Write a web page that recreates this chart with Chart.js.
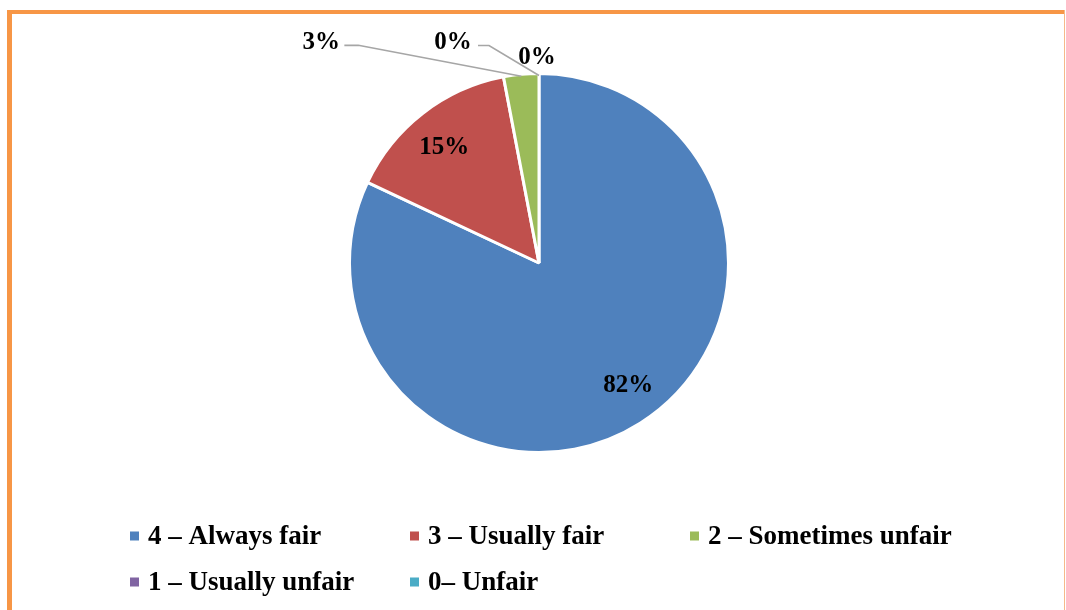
<!DOCTYPE html>
<html>
<head>
<meta charset="utf-8">
<script src="https://cdn.jsdelivr.net/npm/chart.js@4"></script>
<style>
  html, body { margin: 0; padding: 0; background: #ffffff; }
  #wrap { position: relative; width: 1066px; height: 610px; }
  canvas { display: block; }
</style>
</head>
<body>
<div id="wrap"><canvas id="c" width="1066" height="610"></canvas></div>
<script>
// ---- data ----
const categories = ["4 – Always fair", "3 – Usually fair", "2 – Sometimes unfair", "1 – Usually unfair", "0– Unfair"];
const shares = [82, 15, 3, 0, 0];
const valueLabels = ["82%", "15%", "3%", "0%", "0%"];
const sliceColors = ["#4f81bd", "#c0504d", "#9bbb59", "#8064a2", "#4bacc6"];

// ---- label layout (style config) ----
const labelLayout = [
  { inside: 0.79, dx: 9, dy: -5 },
  { inside: 0.79, dx: -3, dy: 2 },
  { dx: -200, dy: -35, leader: { elbow: [37, 4], end: [23, 4] } },
  { dx: -86, dy: -34, leader: { elbow: [36, 4], end: [25, 4] } },
  { dx: -2, dy: -19 }
];

const frame = {
  id: 'frame',
  beforeDraw(chart) {
    const ctx = chart.ctx;
    ctx.save();
    ctx.fillStyle = '#ffffff';
    ctx.fillRect(0, 0, chart.width, chart.height);
    ctx.fillStyle = '#f79646';
    ctx.fillRect(7, 10, 1058, 4);
    ctx.fillRect(7, 10, 5, 600);
    ctx.fillStyle = '#f6b88a';
    ctx.fillRect(1064, 10, 1, 600);
    ctx.restore();
  }
};

const sliceLabels = {
  id: 'sliceLabels',
  afterDatasetsDraw(chart) {
    const ctx = chart.ctx;
    const meta = chart.getDatasetMeta(0);
    ctx.save();
    ctx.font = 'bold 25px "Liberation Serif", "Times New Roman", serif';
    ctx.textAlign = 'center';
    ctx.textBaseline = 'middle';
    meta.data.forEach((arc, i) => {
      const p = arc.getProps(['x', 'y', 'startAngle', 'endAngle', 'outerRadius'], true);
      const mid = (p.startAngle + p.endAngle) / 2;
      const L = labelLayout[i];
      let tx, ty;
      if (L.inside !== undefined) {
        tx = p.x + Math.cos(mid) * p.outerRadius * L.inside + (L.dx || 0);
        ty = p.y + Math.sin(mid) * p.outerRadius * L.inside + (L.dy || 0);
      } else {
        const ax = p.x + Math.cos(mid) * (p.outerRadius - 2);
        const ay = p.y + Math.sin(mid) * (p.outerRadius - 2);
        tx = ax + L.dx;
        ty = ay + L.dy;
        if (L.leader) {
          ctx.strokeStyle = '#a6a6a6';
          ctx.lineWidth = 1.6;
          ctx.beginPath();
          ctx.moveTo(ax, ay);
          ctx.lineTo(tx + L.leader.elbow[0], ty + L.leader.elbow[1]);
          ctx.lineTo(tx + L.leader.end[0], ty + L.leader.end[1]);
          ctx.stroke();
        }
      }
      ctx.fillStyle = '#000000';
      ctx.fillText(valueLabels[i], tx, ty + 1);
    });
    ctx.restore();
  }
};

const gridLegend = {
  id: 'gridLegend',
  afterDraw(chart) {
    const ctx = chart.ctx;
    const cols = 3, x0 = 130, colStep = 280, y0 = 536, rowStep = 46, box = 9, gap = 18;
    ctx.save();
    ctx.font = 'bold 27px "Liberation Serif", "Times New Roman", serif';
    ctx.textBaseline = 'middle';
    ctx.textAlign = 'left';
    chart.data.labels.forEach((lab, i) => {
      const c = i % cols, r = Math.floor(i / cols);
      const x = x0 + c * colStep, y = y0 + r * rowStep;
      ctx.fillStyle = chart.data.datasets[0].backgroundColor[i];
      ctx.fillRect(x, y - box / 2, box, box);
      ctx.fillStyle = '#000000';
      ctx.fillText(lab, x + gap, y + 1);
    });
    ctx.restore();
  }
};

new Chart(document.getElementById('c'), {
  type: 'pie',
  data: {
    labels: categories,
    datasets: [{
      data: shares,
      backgroundColor: sliceColors,
      borderColor: '#ffffff',
      borderWidth: 3
    }]
  },
  options: {
    responsive: false,
    animation: false,
    layout: { padding: { top: 72, bottom: 156, left: 12, right: 0 } },
    plugins: {
      legend: { display: false },
      tooltip: { enabled: false }
    }
  },
  plugins: [frame, sliceLabels, gridLegend]
});
</script>
</body>
</html>
